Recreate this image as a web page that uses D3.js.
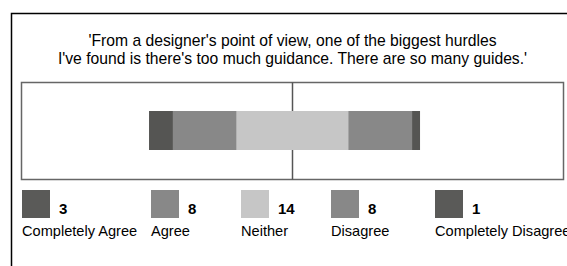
<!DOCTYPE html>
<html>
<head>
<meta charset="utf-8">
<script src="https://cdn.jsdelivr.net/npm/d3@7"></script>
<style>
	body { margin: 0; background: #fff; }
	svg { display: block; font-family: "Liberation Sans", Arial, sans-serif; }
</style>
</head>
<body>
<div id="chart"></div>
<script>
// Likert bar
///

const categories = ['Completely Agree', 'Agree', 'Neither', 'Disagree', 'Completely Disagree'];
const counts = [3, 8, 14, 8, 1];
const colors = ['#555553', '#888888', '#c6c6c6', '#888888', '#555553'];
const titleLines = ["'From a designer's point of view, one of the biggest hurdles",
	"I've found is there's too much guidance. There are so many guides.'"];
const legendPos = [22, 151, 241, 331, 435];

const w = 567, h = 266;
const box = { left: 21.5, right: 563.5, top: 82.5, bottom: 179.5 };

let svg = d3.select('#chart').append('svg')
	.attr('width', w)
	.attr('height', h);

// outer frame (runs off the page)
svg.append('rect')
	.attr('x', 11.5).attr('y', 13.5)
	.attr('width', w).attr('height', h)
	.attr('fill', 'none')
	.attr('stroke', '#000')
	.attr('stroke-width', 1.5);

// title
svg.append('text')
	.attr('text-anchor', 'middle')
	.attr('font-size', 15.7)
	.attr('fill', '#000')
	.selectAll('tspan')
	.data(titleLines)
	.enter()
	.append('tspan')
	.attr('x', (box.left + box.right) / 2)
	.attr('y', function(d, i) { return 46 + i * 18 })
	.text(function(d) { return d });

// diverging scale, neutral centred on zero
const total = d3.sum(counts);
const x = d3.scaleLinear().domain([-total, total]).range([box.left, box.right]);

let start = -(counts[0] + counts[1] + counts[2] / 2);
const segs = counts.map(function(c, i) {
	let s = { cat: categories[i], x0: start, x1: start + c, color: colors[i] };
	start += c;
	return s;
});

svg.append('rect')
	.attr('x', box.left).attr('y', box.top)
	.attr('width', box.right - box.left).attr('height', box.bottom - box.top)
	.attr('fill', '#fff')
	.attr('stroke', '#666')
	.attr('stroke-width', 1.5);

svg.append('line')
	.attr('x1', x(0)).attr('x2', x(0))
	.attr('y1', box.top).attr('y2', box.bottom)
	.attr('stroke', '#555')
	.attr('stroke-width', 1.5);

svg.append('g').selectAll('rect')
	.data(segs)
	.enter()
	.append('rect')
	.attr('x', function(d) { return x(d.x0) })
	.attr('width', function(d) { return x(d.x1) - x(d.x0) })
	.attr('y', 111)
	.attr('height', 39)
	.attr('fill', function(d) { return d.color });

// legend
const lx = d3.scaleOrdinal().domain(categories).range(legendPos);

let items = svg.append('g').selectAll('g')
	.data(categories)
	.enter()
	.append('g')
	.attr('transform', function(d) { return 'translate(' + lx(d) + ',0)' });

items.append('rect')
	.attr('x', 0).attr('y', 190)
	.attr('width', 28).attr('height', 28)
	.attr('fill', function(d, i) { return colors[i] === '#555553' ? '#5a5a58' : colors[i] });

items.append('text')
	.attr('x', 37).attr('y', 214)
	.attr('font-size', 15)
	.attr('font-weight', 'bold')
	.attr('fill', '#000')
	.text(function(d, i) { return counts[i] });

items.append('text')
	.attr('x', 0).attr('y', 236)
	.attr('font-size', 14.6)
	.attr('fill', '#000')
	.text(function(d) { return d });
</script>
</body>
</html>
